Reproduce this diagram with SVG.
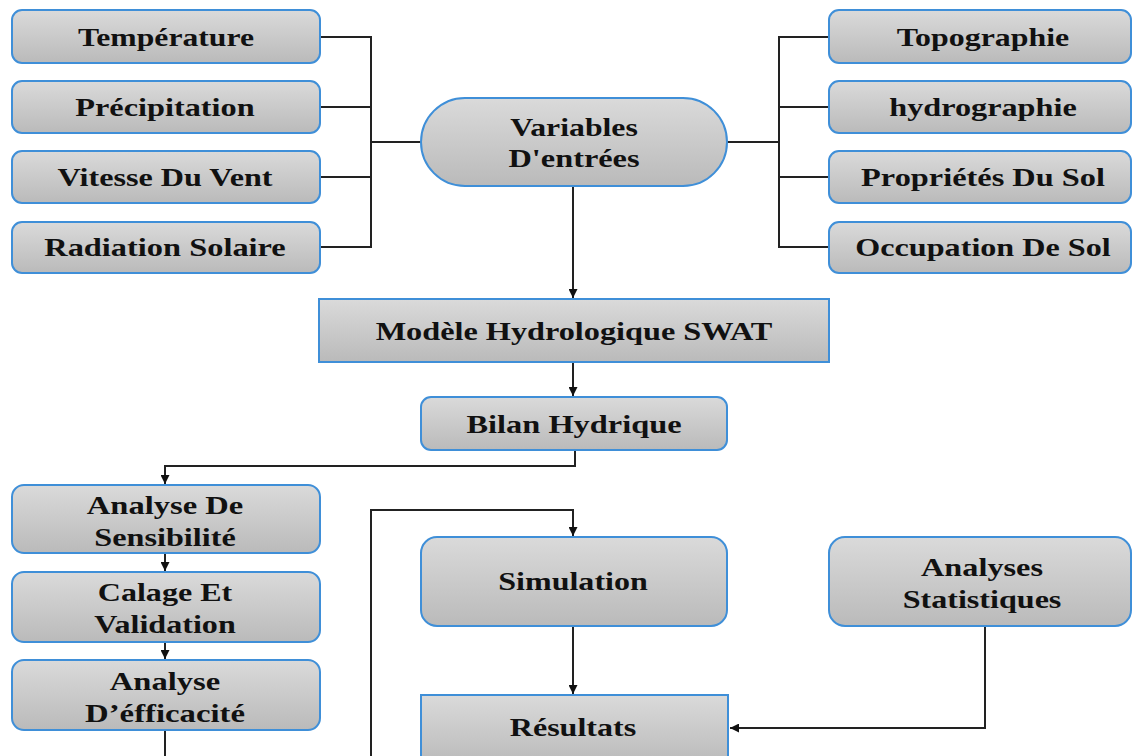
<svg xmlns="http://www.w3.org/2000/svg" width="1132" height="756" viewBox="0 0 1132 756">
<style>
.box{fill:url(#g);stroke:#3f8fd8;stroke-width:2}
.t{font-family:"Liberation Serif","Times New Roman",serif;font-weight:bold;font-size:26px;fill:#111;text-anchor:middle}
.c{fill:none;stroke:#222;stroke-width:2}
</style>
<defs>
<linearGradient id="g" x1="0" y1="0" x2="0" y2="1">
<stop offset="0" stop-color="#dadada"/>
<stop offset="1" stop-color="#bababa"/>
</linearGradient>
<marker id="a" viewBox="0 0 10 10" refX="10" refY="5" markerWidth="9" markerHeight="9" markerUnits="userSpaceOnUse" orient="auto">
<path d="M0,0 L10,5 L0,10 z" fill="#111"/>
</marker>
</defs>
<rect width="1132" height="756" fill="#fff"/>
<g id="connectors">
<path class="c" d="M320,37 H371 V247 H320 M320,107 H371 M320,177 H371 M371,142 H421"/>
<path class="c" d="M829,37 H779 V247 H829 M829,107 H779 M829,177 H779 M779,142 H727"/>
<path class="c" d="M573,186 V298" marker-end="url(#a)"/>
<path class="c" d="M573,362 V396" marker-end="url(#a)"/>
<path class="c" d="M575,450 V466 H165 V484" marker-end="url(#a)"/>
<path class="c" d="M165,553 V571" marker-end="url(#a)"/>
<path class="c" d="M165,642 V659" marker-end="url(#a)"/>
<path class="c" d="M165,730 V756"/>
<path class="c" d="M371,756 V510 H573 V536" marker-end="url(#a)"/>
<path class="c" d="M573,626 V694" marker-end="url(#a)"/>
<path class="c" d="M985,626 V728 H730" marker-end="url(#a)"/>
</g>
<g id="temperature"><rect class="box" x="12" y="10" width="308" height="53" rx="10"/><text class="t" transform="translate(166 46) scale(1.15 1)" textLength="153" lengthAdjust="spacingAndGlyphs">Température</text></g>
<g id="precipitation"><rect class="box" x="12" y="81" width="308" height="52" rx="10"/><text class="t" transform="translate(165 116) scale(1.15 1)" textLength="156" lengthAdjust="spacingAndGlyphs">Précipitation</text></g>
<g id="vitesse"><rect class="box" x="12" y="151" width="308" height="52" rx="10"/><text class="t" transform="translate(165 186) scale(1.15 1)" textLength="187" lengthAdjust="spacingAndGlyphs">Vitesse Du Vent</text></g>
<g id="radiation"><rect class="box" x="12" y="222" width="308" height="51" rx="10"/><text class="t" transform="translate(165 256) scale(1.15 1)" textLength="210" lengthAdjust="spacingAndGlyphs">Radiation Solaire</text></g>
<g id="variables"><rect class="box" x="421" y="98" width="306" height="88" rx="44"/><text class="t" transform="translate(574 136) scale(1.15 1)" textLength="111" lengthAdjust="spacingAndGlyphs">Variables</text><text class="t" transform="translate(574 167) scale(1.15 1)" textLength="114" lengthAdjust="spacingAndGlyphs">D'entrées</text></g>
<g id="topographie"><rect class="box" x="829" y="10" width="302" height="53" rx="10"/><text class="t" transform="translate(983 46) scale(1.15 1)" textLength="150" lengthAdjust="spacingAndGlyphs">Topographie</text></g>
<g id="hydrographie"><rect class="box" x="829" y="81" width="302" height="52" rx="10"/><text class="t" transform="translate(983 116) scale(1.15 1)" textLength="163" lengthAdjust="spacingAndGlyphs">hydrographie</text></g>
<g id="proprietes"><rect class="box" x="829" y="151" width="302" height="52" rx="10"/><text class="t" transform="translate(983 186) scale(1.15 1)" textLength="212" lengthAdjust="spacingAndGlyphs">Propriétés Du Sol</text></g>
<g id="occupation"><rect class="box" x="829" y="222" width="302" height="51" rx="10"/><text class="t" transform="translate(983 256) scale(1.15 1)" textLength="222" lengthAdjust="spacingAndGlyphs">Occupation De Sol</text></g>
<g id="swat"><rect class="box" x="319" y="299" width="510" height="63"/><text class="t" transform="translate(574 340) scale(1.15 1)" textLength="345" lengthAdjust="spacingAndGlyphs">Modèle Hydrologique SWAT</text></g>
<g id="bilan"><rect class="box" x="421" y="397" width="306" height="53" rx="10"/><text class="t" transform="translate(574 433) scale(1.15 1)" textLength="187" lengthAdjust="spacingAndGlyphs">Bilan Hydrique</text></g>
<g id="sensibilite"><rect class="box" x="12" y="485" width="308" height="68" rx="12"/><text class="t" transform="translate(165 514) scale(1.15 1)" textLength="136" lengthAdjust="spacingAndGlyphs">Analyse De</text><text class="t" transform="translate(165 546) scale(1.15 1)" textLength="123" lengthAdjust="spacingAndGlyphs">Sensibilité</text></g>
<g id="calage"><rect class="box" x="12" y="572" width="308" height="70" rx="12"/><text class="t" transform="translate(165 601) scale(1.15 1)" textLength="117" lengthAdjust="spacingAndGlyphs">Calage Et</text><text class="t" transform="translate(165 633) scale(1.15 1)" textLength="123" lengthAdjust="spacingAndGlyphs">Validation</text></g>
<g id="efficacite"><rect class="box" x="12" y="660" width="308" height="70" rx="12"/><text class="t" transform="translate(165 690) scale(1.15 1)" textLength="96" lengthAdjust="spacingAndGlyphs">Analyse</text><text class="t" transform="translate(165 722) scale(1.15 1)" textLength="139" lengthAdjust="spacingAndGlyphs">D’éfficacité</text></g>
<g id="simulation"><rect class="box" x="421" y="537" width="306" height="89" rx="16"/><text class="t" transform="translate(573 590) scale(1.15 1)" textLength="130" lengthAdjust="spacingAndGlyphs">Simulation</text></g>
<g id="statistiques"><rect class="box" x="829" y="537" width="302" height="89" rx="16"/><text class="t" transform="translate(982 576) scale(1.15 1)" textLength="106" lengthAdjust="spacingAndGlyphs">Analyses</text><text class="t" transform="translate(982 608) scale(1.15 1)" textLength="138" lengthAdjust="spacingAndGlyphs">Statistiques</text></g>
<g id="resultats"><rect class="box" x="421" y="695" width="307" height="70"/><text class="t" transform="translate(573 736) scale(1.15 1)" textLength="110" lengthAdjust="spacingAndGlyphs">Résultats</text></g>
</svg>
